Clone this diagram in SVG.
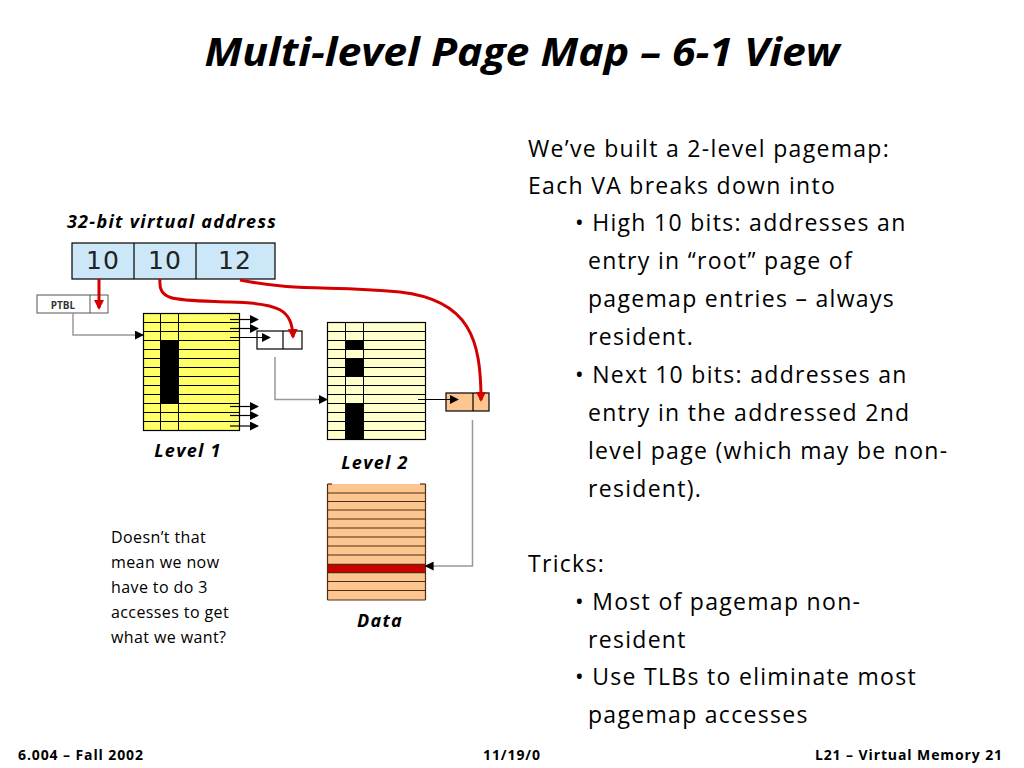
<svg xmlns="http://www.w3.org/2000/svg" width="1024" height="768" viewBox="0 0 1024 768">
<defs>
<marker id="ahb" viewBox="0 0 10 10" refX="9" refY="5" markerWidth="9" markerHeight="9" orient="auto" markerUnits="userSpaceOnUse"><path d="M0,0 L10,5 L0,10 z" fill="#000"/></marker>
<marker id="ahr" viewBox="0 0 10 10" refX="8" refY="5" markerWidth="10" markerHeight="10" orient="auto" markerUnits="userSpaceOnUse"><path d="M0,0 L10,5 L0,10 z" fill="#d40000"/></marker>
</defs>
<style>
text{font-family:"Open Sans","Liberation Sans",sans-serif;fill:#000}
.title{font-size:40px;font-weight:bold;font-style:italic}
.lbl{font-size:18px;font-weight:bold;font-style:italic;letter-spacing:1.3px}
.body{font-size:23px;letter-spacing:1.3px}
.note{font-size:16px;letter-spacing:0.4px}
.foot{font-size:14px;font-weight:bold;letter-spacing:0.9px}
.num{font-family:"DejaVu Sans","Liberation Sans",sans-serif;font-size:25px;fill:#222;letter-spacing:1px}
.cell{stroke:#000;stroke-width:1.2}
.gray{fill:none;stroke:#999;stroke-width:1.5}
.red{fill:none;stroke:#d40000;stroke-width:3}
.blk{stroke:#000;stroke-width:1}
</style>
<rect width="1024" height="768" fill="#fff"/>
<text class="title" x="522" y="66" text-anchor="middle" textLength="635" lengthAdjust="spacingAndGlyphs">Multi-level Page Map – 6-1 View</text>

<g id="va-label"><text class="lbl" x="172" y="228" text-anchor="middle">32-bit virtual address</text></g>

<g id="va">
<rect x="72" y="243" width="203" height="36" fill="#cce8f8" class="cell"/>
<line x1="134" y1="243" x2="134" y2="279" class="cell"/>
<line x1="196" y1="243" x2="196" y2="279" class="cell"/>
<text class="num" x="103" y="269" text-anchor="middle">10</text>
<text class="num" x="165" y="269" text-anchor="middle">10</text>
<text class="num" x="235" y="269" text-anchor="middle">12</text>
</g>

<g id="ptbl">
<rect x="37" y="295" width="71" height="18" fill="#fff" stroke="#555" stroke-width="1"/>
<line x1="90" y1="295" x2="90" y2="313" stroke="#555"/>
<text x="63" y="308.5" text-anchor="middle" style="font-size:10px;font-weight:bold;fill:#333">PTBL</text>
</g>

<g id="level1">
<rect x="143.5" y="313.5" width="96" height="117" fill="#ffff66" class="cell"/>
<rect x="160.5" y="340.5" width="18" height="63" fill="#000"/>
<g class="blk">
<line x1="143.5" x2="239.5" y1="322.5" y2="322.5"/><line x1="143.5" x2="239.5" y1="331.5" y2="331.5"/><line x1="143.5" x2="239.5" y1="340.5" y2="340.5"/><line x1="143.5" x2="239.5" y1="349.5" y2="349.5"/><line x1="143.5" x2="239.5" y1="358.5" y2="358.5"/><line x1="143.5" x2="239.5" y1="367.5" y2="367.5"/><line x1="143.5" x2="239.5" y1="376.5" y2="376.5"/><line x1="143.5" x2="239.5" y1="385.5" y2="385.5"/><line x1="143.5" x2="239.5" y1="394.5" y2="394.5"/><line x1="143.5" x2="239.5" y1="403.5" y2="403.5"/><line x1="143.5" x2="239.5" y1="412.5" y2="412.5"/><line x1="143.5" x2="239.5" y1="421.5" y2="421.5"/>
<line x1="160.5" x2="160.5" y1="313.5" y2="430.5"/><line x1="178.5" x2="178.5" y1="313.5" y2="430.5"/>
</g>
<text class="lbl" x="188" y="457" text-anchor="middle">Level 1</text>
</g>

<g id="pte1">
<rect x="257" y="331" width="45" height="18" fill="#fff" class="cell"/>
<line x1="283" y1="331" x2="283" y2="349" class="cell"/>
</g>

<g id="level2">
<rect x="327.5" y="322.5" width="98" height="117" fill="#ffffcc" class="cell"/>
<rect x="345.5" y="340.5" width="18" height="9" fill="#000"/>
<rect x="345.5" y="358.5" width="18" height="18" fill="#000"/>
<rect x="345.5" y="403.5" width="18" height="36" fill="#000"/>
<g class="blk">
<line x1="327.5" x2="425.5" y1="331.5" y2="331.5"/><line x1="327.5" x2="425.5" y1="340.5" y2="340.5"/><line x1="327.5" x2="425.5" y1="349.5" y2="349.5"/><line x1="327.5" x2="425.5" y1="358.5" y2="358.5"/><line x1="327.5" x2="425.5" y1="367.5" y2="367.5"/><line x1="327.5" x2="425.5" y1="376.5" y2="376.5"/><line x1="327.5" x2="425.5" y1="385.5" y2="385.5"/><line x1="327.5" x2="425.5" y1="394.5" y2="394.5"/><line x1="327.5" x2="425.5" y1="403.5" y2="403.5"/><line x1="327.5" x2="425.5" y1="412.5" y2="412.5"/><line x1="327.5" x2="425.5" y1="421.5" y2="421.5"/><line x1="327.5" x2="425.5" y1="430.5" y2="430.5"/>
<line x1="345.5" x2="345.5" y1="322.5" y2="439.5"/><line x1="363.5" x2="363.5" y1="322.5" y2="439.5"/>
</g>
<text class="lbl" x="375" y="469" text-anchor="middle">Level 2</text>
</g>

<g id="pte2">
<rect x="446" y="393" width="43" height="18" fill="#fdc690" class="cell"/>
<line x1="473" y1="393" x2="473" y2="411" class="cell"/>
</g>

<g id="data">
<rect x="327.5" y="484" width="98" height="116" fill="#fdc690"/>
<rect x="327.5" y="564.3" width="98" height="8.4" fill="#cc0000"/>
<g stroke="#4a2f12" stroke-width="1.2">
<line x1="327.5" x2="425.5" y1="493" y2="493"/><line x1="327.5" x2="425.5" y1="501.5" y2="501.5"/><line x1="327.5" x2="425.5" y1="510" y2="510"/><line x1="327.5" x2="425.5" y1="519" y2="519"/><line x1="327.5" x2="425.5" y1="528" y2="528"/><line x1="327.5" x2="425.5" y1="537" y2="537"/><line x1="327.5" x2="425.5" y1="546" y2="546"/><line x1="327.5" x2="425.5" y1="555" y2="555"/><line x1="327.5" x2="425.5" y1="564.3" y2="564.3"/><line x1="327.5" x2="425.5" y1="572.7" y2="572.7"/><line x1="327.5" x2="425.5" y1="581.5" y2="581.5"/><line x1="327.5" x2="425.5" y1="590.5" y2="590.5"/><line x1="327.5" x2="425.5" y1="600" y2="600"/>
<line x1="327.5" x2="327.5" y1="484" y2="600"/><line x1="425.5" x2="425.5" y1="484" y2="600"/>
<line x1="327.5" x2="332" y1="484" y2="484"/><line x1="420" x2="425.5" y1="484" y2="484"/>
</g>
<text class="lbl" x="380" y="627" text-anchor="middle">Data</text>
</g>

<g id="connectors">
<path class="red" d="M99,279 L99,308" marker-end="url(#ahr)"/>
<path class="red" d="M160,279 C158,302 175,300 230,302 C280,303 292,310 293,337" marker-end="url(#ahr)"/>
<path class="red" d="M240,280 C300,292 330,285 400,292 C470,300 481,340 481,400" marker-end="url(#ahr)"/>
<path class="gray" d="M73,313 L73,335 L140,335"/>
<path d="M135,335 L143,335" stroke="#000" marker-end="url(#ahb)"/>
<path class="gray" d="M275,357 L275,399.5 L322,399.5"/>
<path d="M318,399.5 L327,399.5" stroke="#000" marker-end="url(#ahb)"/>
<path class="gray" d="M472.5,420 L472.5,566 L428,566"/>
<path d="M430,566 L425.5,566" stroke="#000" marker-end="url(#ahb)"/>
<g stroke="#000" stroke-width="1.2">
<path d="M230,319.5 L258,319.5" marker-end="url(#ahb)"/>
<path d="M230,328.5 L258,328.5" marker-end="url(#ahb)"/>
<path d="M230,337.5 L270,337.5" marker-end="url(#ahb)"/>
<path d="M230,406.5 L258,406.5" marker-end="url(#ahb)"/>
<path d="M230,415.5 L258,415.5" marker-end="url(#ahb)"/>
<path d="M230,426 L258,426" marker-end="url(#ahb)"/>
<path d="M418,399.5 L458,399.5" marker-end="url(#ahb)"/>
</g>
</g>

<g id="note">
<text class="note" x="111" y="543">Doesn’t that</text>
<text class="note" x="111" y="568">mean we now</text>
<text class="note" x="111" y="593">have to do 3</text>
<text class="note" x="111" y="618">accesses to get</text>
<text class="note" x="111" y="643">what we want?</text>
</g>

<g id="bullets">
<text class="body" x="528" y="157">We’ve built a 2-level pagemap:</text>
<text class="body" x="528" y="194">Each VA breaks down into</text>
<text class="body" x="575" y="231">• High 10 bits: addresses an</text>
<text class="body" x="588" y="269">entry in “root” page of</text>
<text class="body" x="588" y="307">pagemap entries – always</text>
<text class="body" x="588" y="345">resident.</text>
<text class="body" x="575" y="383">• Next 10 bits: addresses an</text>
<text class="body" x="588" y="421">entry in the addressed 2nd</text>
<text class="body" x="588" y="459">level page (which may be non-</text>
<text class="body" x="588" y="497">resident).</text>
<text class="body" x="528" y="572">Tricks:</text>
<text class="body" x="575" y="610">• Most of pagemap non-</text>
<text class="body" x="588" y="648">resident</text>
<text class="body" x="575" y="685">• Use TLBs to eliminate most</text>
<text class="body" x="588" y="723">pagemap accesses</text>
</g>

<g id="footer">
<text class="foot" x="18" y="760">6.004 – Fall 2002</text>
<text class="foot" x="512" y="760" text-anchor="middle">11/19/0</text>
<text class="foot" x="1003" y="760" text-anchor="end">L21 – Virtual Memory 21</text>
</g>
</svg>
